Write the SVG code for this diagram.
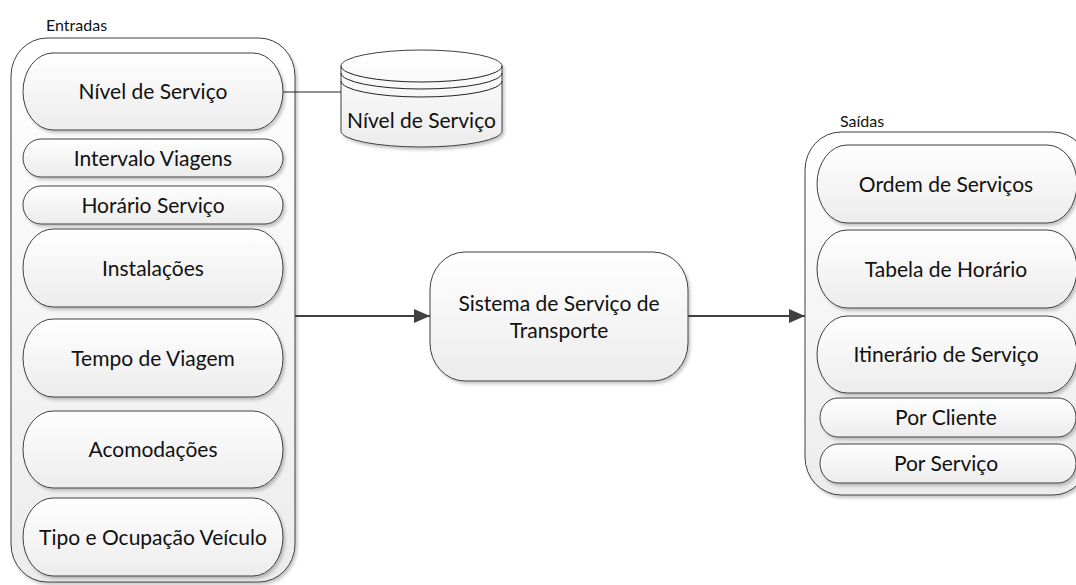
<svg xmlns="http://www.w3.org/2000/svg" width="1076" height="585" viewBox="0 0 1076 585">
<defs>
<linearGradient id="g" x1="0" y1="0" x2="0" y2="1">
<stop offset="0" stop-color="#ffffff"/>
<stop offset="1" stop-color="#ececec"/>
</linearGradient>
<filter id="sh" x="-10%" y="-10%" width="130%" height="130%">
<feDropShadow dx="2" dy="2.5" stdDeviation="1.5" flood-color="#000" flood-opacity="0.22"/>
</filter>
<marker id="arr" markerWidth="16" markerHeight="14" refX="16" refY="7" orient="auto" markerUnits="userSpaceOnUse">
<path d="M0,0 L16,7 L0,14 Z" fill="#404040"/>
</marker>
</defs>
<style>
.box{fill:url(#g);stroke:#404040;stroke-width:1;filter:url(#sh)}
.t{font-family:Lato,"Liberation Sans",sans-serif;font-size:21px;fill:#111;text-anchor:middle}
.lbl{font-family:Lato,"Liberation Sans",sans-serif;font-size:16px;fill:#111}
.conn{stroke:#404040;stroke-width:2;fill:none}
.thin{stroke:#222;stroke-width:1;fill:none}
</style>
<rect width="1076" height="585" fill="#fff"/>

<g id="entradas">
<text class="lbl" x="46" y="31">Entradas</text>
<rect class="box" x="11" y="38" width="284" height="544" rx="36" ry="38"/>
</g>
<g id="saidas">
<text class="lbl" x="840" y="127">Saídas</text>
<rect class="box" x="805" y="132" width="284" height="363" rx="36" ry="38"/>
</g>

<g id="in-nivel"><rect class="box" x="23" y="53" width="260" height="77" rx="30" ry="38.5"/><text class="t" x="153" y="99">Nível de Serviço</text></g>
<g id="in-intervalo"><rect class="box" x="23" y="139" width="260" height="38" rx="18" ry="19"/><text class="t" x="153" y="165.5">Intervalo Viagens</text></g>
<g id="in-horario"><rect class="box" x="23" y="186" width="260" height="38" rx="18" ry="19"/><text class="t" x="153" y="212.5">Horário Serviço</text></g>
<g id="in-instalacoes"><rect class="box" x="23" y="229" width="260" height="78" rx="30" ry="39"/><text class="t" x="153" y="275.5">Instalações</text></g>
<g id="in-tempo"><rect class="box" x="23" y="319" width="260" height="78" rx="30" ry="39"/><text class="t" x="153" y="365.5">Tempo de Viagem</text></g>
<g id="in-acomodacoes"><rect class="box" x="23" y="411" width="260" height="77" rx="30" ry="38.5"/><text class="t" x="153" y="457">Acomodações</text></g>
<g id="in-tipo"><rect class="box" x="23" y="498" width="260" height="78" rx="30" ry="39"/><text class="t" x="153" y="545">Tipo e Ocupação Veículo</text></g>

<g id="db-nivel">
<path class="box" d="M341,66 A80.5,16 0 0 1 502,66 L502,131 A80.5,16 0 0 1 341,131 Z"/>
<path class="thin" stroke="#404040" d="M341,66 A80.5,16 0 0 0 502,66"/>
<path class="thin" stroke="#404040" d="M341,73 A80.5,16 0 0 0 502,73"/>
<path class="thin" stroke="#404040" d="M341,81 A80.5,16 0 0 0 502,81"/>
<text class="t" x="421.5" y="128">Nível de Serviço</text>
</g>

<g id="sistema">
<rect class="box" x="430" y="252" width="258" height="129" rx="35" ry="38"/>
<text class="t" x="559" y="311">Sistema de Serviço de</text>
<text class="t" x="559" y="338">Transporte</text>
</g>

<g id="out-ordem"><rect class="box" x="817" y="145" width="260" height="78" rx="30" ry="39"/><text class="t" x="946" y="191.5">Ordem de Serviços</text></g>
<g id="out-tabela"><rect class="box" x="817" y="230" width="260" height="78" rx="30" ry="39"/><text class="t" x="946" y="276.5">Tabela de Horário</text></g>
<g id="out-itinerario"><rect class="box" x="817" y="316" width="260" height="77" rx="30" ry="38.5"/><text class="t" x="946" y="362">Itinerário de Serviço</text></g>
<g id="out-cliente"><rect class="box" x="820" y="398" width="256" height="39" rx="18" ry="19.5"/><text class="t" x="946" y="425">Por Cliente</text></g>
<g id="out-servico"><rect class="box" x="820" y="444" width="256" height="39" rx="18" ry="19.5"/><text class="t" x="946" y="471">Por Serviço</text></g>

<g id="connectors">
<line class="thin" x1="283" y1="92" x2="341" y2="92"/>
<line class="conn" x1="295" y1="316" x2="430" y2="316" marker-end="url(#arr)"/>
<line class="conn" x1="688" y1="316" x2="805" y2="316" marker-end="url(#arr)"/>
</g>
</svg>
